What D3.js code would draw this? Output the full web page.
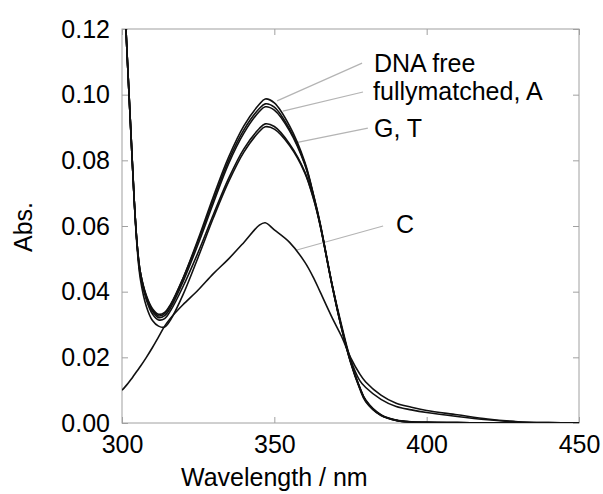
<!DOCTYPE html>
<html lang="en">
<head>
	<meta charset="utf-8">
	<title>Abs spectra</title>
	<script type="text/javascript" src="https://cdn.jsdelivr.net/npm/d3@7"></script>
	<style type="text/css">
		body { margin: 0; background: #fff; }
		text { font-family: "Liberation Sans", Arial, sans-serif; fill: #000; }
		.axis path, .axis line { stroke: #a0a0a0; }
	</style>
</head>
<body>
<script type="text/javascript">
	// wavelengths (nm) shared by all spectra
	var wl = [300,301,302,303,304,305,306,308,310,312,314,316,320,325,330,335,340,345,347,350,355,360,363,365,369,372,375,378,380,385,390,395,400,410,420,430,440,450];

	var dnaFree = [0.150,0.126,0.106,0.087,0.068,0.054,0.046,0.0385,0.0345,0.0326,0.0333,0.0360,0.0440,0.0560,0.0690,0.0810,0.0905,0.0970,0.0987,0.0975,0.0905,0.0795,0.0690,0.0610,0.0420,0.0295,0.0190,0.0110,0.0070,0.0025,0.0009,0.0004,0.0002,0.0001,0,0,0,0];
	var fullymatched = [0.150,0.126,0.106,0.087,0.068,0.054,0.046,0.0388,0.0348,0.0331,0.0337,0.0362,0.0440,0.0555,0.0680,0.0800,0.0893,0.0957,0.0972,0.0962,0.0895,0.0790,0.0688,0.0608,0.0418,0.0293,0.0188,0.0108,0.0068,0.0024,0.0008,0.0003,0.0002,0.0001,0,0,0,0];
	var seqA = [0.150,0.126,0.106,0.087,0.068,0.054,0.046,0.0382,0.0340,0.0321,0.0327,0.0352,0.0430,0.0545,0.0670,0.0790,0.0883,0.0948,0.0963,0.0953,0.0890,0.0787,0.0686,0.0606,0.0416,0.0291,0.0187,0.0108,0.0068,0.0024,0.0008,0.0003,0.0002,0.0001,0,0,0,0];
	var seqG = [0.150,0.126,0.106,0.087,0.068,0.054,0.045,0.0375,0.0332,0.0314,0.0318,0.0343,0.0415,0.0520,0.0635,0.0745,0.0835,0.0896,0.0911,0.0903,0.0850,0.0765,0.0680,0.0605,0.0420,0.0300,0.0195,0.0130,0.0108,0.0072,0.0050,0.0040,0.0032,0.0020,0.0010,0.0003,0.0001,0];
	var seqT = [0.150,0.126,0.106,0.087,0.068,0.053,0.044,0.0355,0.0312,0.0295,0.0292,0.0315,0.0390,0.0505,0.0625,0.0735,0.0825,0.0887,0.0902,0.0895,0.0845,0.0762,0.0678,0.0603,0.0418,0.0292,0.0185,0.0105,0.0065,0.0023,0.0008,0.0003,0.0001,0,0,0,0,0];
	var seqC = [0.0100,0.0110,0.0121,0.0133,0.0146,0.0159,0.0172,0.0200,0.0230,0.0262,0.0295,0.0320,0.0360,0.0405,0.0455,0.0500,0.0550,0.0602,0.0610,0.0588,0.0550,0.0490,0.0440,0.0400,0.0320,0.0265,0.0200,0.0150,0.0125,0.0085,0.0060,0.0048,0.0038,0.0025,0.0012,0.0004,0.0001,0];

	var series = [dnaFree, fullymatched, seqA, seqG, seqT, seqC];

	var xTicks = [300,350,400,450];
	var yTicks = [0,0.02,0.04,0.06,0.08,0.10,0.12];

	// curve labels and their leader lines, in wavelength / abs units
	var labels = ["DNA free", "fullymatched, A", "G, T", "C"];
	var labelAt = [[382.7, 0.1069], [382.4, 0.0984], [382.7, 0.0871], [389.9, 0.0579]];
	var leaderFrom = [[378.8, 0.1096], [379.1, 0.1008], [380.7, 0.0898], [385.7, 0.0600]];
	var leaderTo = [[350.9, 0.0981], [352.8, 0.0950], [356.8, 0.0853], [357.4, 0.0527]];

	var w = 603;
	var h = 494;
	var margin = {left: 122, top: 29, right: 24, bottom: 71};
	var pw = w - margin.left - margin.right;
	var ph = h - margin.top - margin.bottom;

	var svg = d3.select("body")
		.append("svg")
		.attr("width", w)
		.attr("height", h)

	var g = svg.append("g")
		.attr("transform", "translate(" + margin.left + "," + margin.top + ")")

	var xScale = d3.scaleLinear().domain([300, 450]).range([0, pw]);
	var yScale = d3.scaleLinear().domain([0, 0.12]).range([ph, 0]);

	g.append("clipPath").attr("id", "clip")
		.append("rect").attr("width", pw).attr("height", ph)

	// frame
	g.append("rect")
		.attr("width", pw)
		.attr("height", ph)
		.attr("fill", "none")
		.attr("stroke", "#a0a0a0")

	var fs = "25px";

	g.append("g").attr("class", "axis")
		.attr("transform", "translate(0," + ph + ")")
		.call(d3.axisBottom(xScale).tickValues(xTicks).tickSizeInner(-6).tickSizeOuter(0).tickPadding(12))
		.attr("font-size", fs)
	g.append("g").attr("class", "axis")
		.call(d3.axisTop(xScale).tickValues(xTicks).tickSizeInner(-6).tickSizeOuter(0).tickFormat(""))
	g.append("g").attr("class", "axis")
		.call(d3.axisLeft(yScale).tickValues(yTicks).tickSizeInner(-6).tickSizeOuter(0).tickPadding(12).tickFormat(d3.format(".2f")))
		.attr("font-size", fs)
	g.append("g").attr("class", "axis")
		.attr("transform", "translate(" + pw + ",0)")
		.call(d3.axisRight(yScale).tickValues(yTicks).tickSizeInner(-6).tickSizeOuter(0).tickFormat(""))

	g.selectAll(".axis text").attr("fill", "#000").style("font-family", "'Liberation Sans', Arial, sans-serif")
	g.selectAll(".axis .domain").remove()

	// leader lines
	g.selectAll(".leader")
		.data(labels)
		.enter()
		.append("line")
		.attr("x1", function(d, i){ return xScale(leaderFrom[i][0]) })
		.attr("y1", function(d, i){ return yScale(leaderFrom[i][1]) })
		.attr("x2", function(d, i){ return xScale(leaderTo[i][0]) })
		.attr("y2", function(d, i){ return yScale(leaderTo[i][1]) })
		.attr("stroke", "#b4b4b4")
		.attr("stroke-width", 1.2)

	var line = d3.line()
		.x(function(d, i){ return xScale(wl[i]) })
		.y(function(d){ return yScale(d) })
		.curve(d3.curveCatmullRom.alpha(0.5))

	g.append("g").attr("clip-path", "url(#clip)")
		.selectAll("path")
		.data(series)
		.enter()
		.append("path")
		.attr("d", line)
		.attr("fill", "none")
		.attr("stroke", "#111")
		.attr("stroke-width", 1.6)

	g.selectAll(".lbl")
		.data(labels)
		.enter()
		.append("text")
		.attr("x", function(d, i){ return xScale(labelAt[i][0]) })
		.attr("y", function(d, i){ return yScale(labelAt[i][1]) })
		.attr("font-size", fs)
		.text(function(d){ return d })

	// axis titles
	svg.append("text")
		.attr("x", margin.left + xScale(350))
		.attr("y", 486)
		.attr("text-anchor", "middle")
		.attr("font-size", fs)
		.text("Wavelength / nm")

	svg.append("text")
		.attr("transform", "translate(32,227) rotate(-90)")
		.attr("text-anchor", "middle")
		.attr("font-size", fs)
		.text("Abs.")
</script>
</body>
</html>
